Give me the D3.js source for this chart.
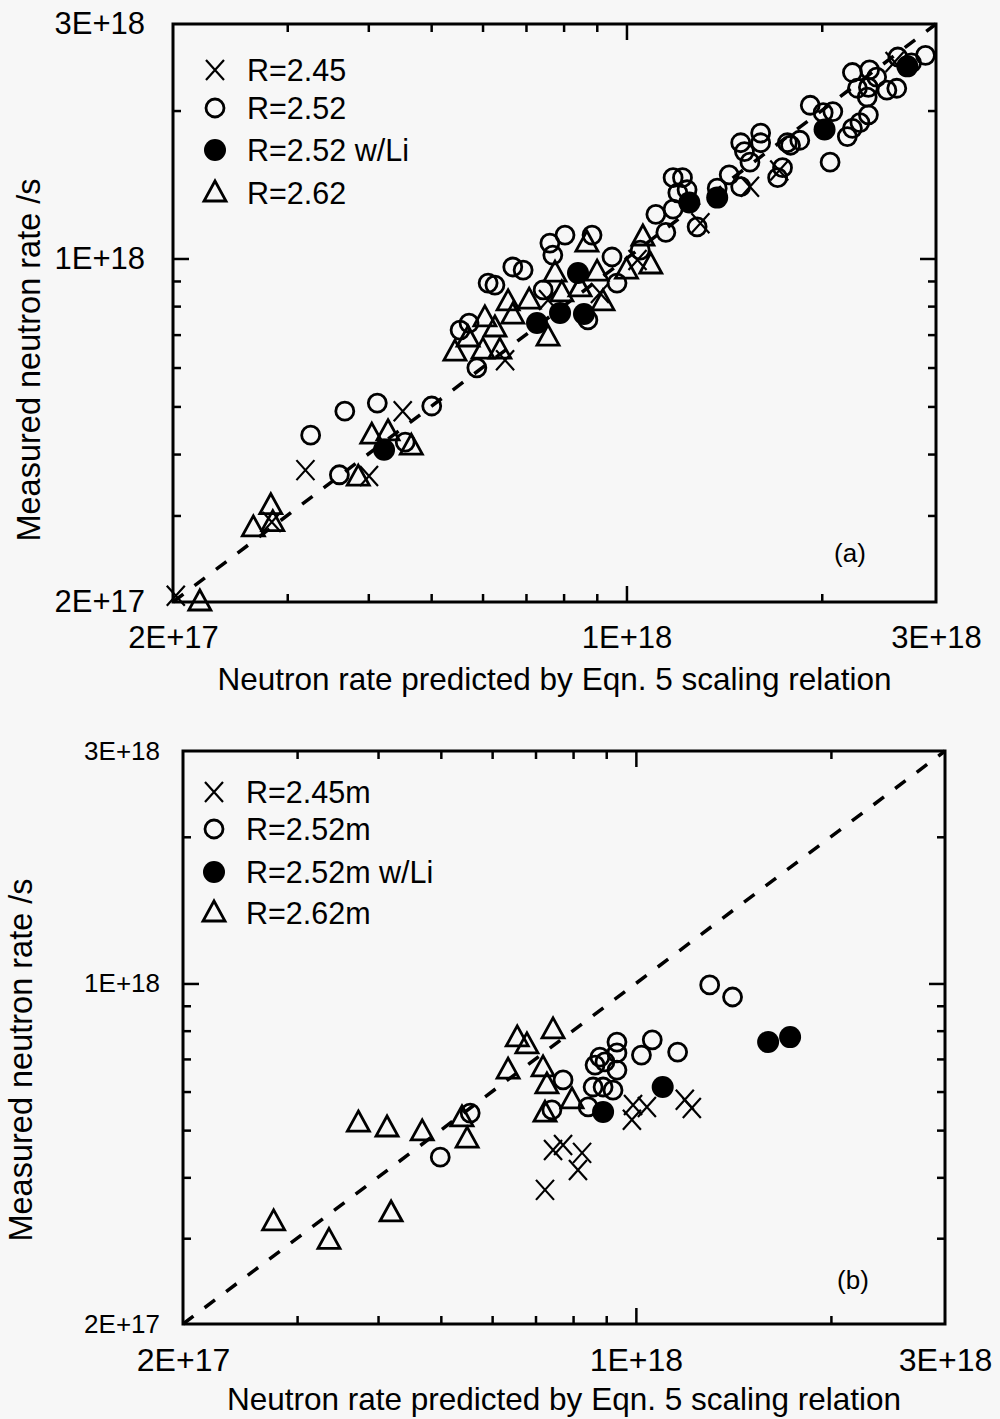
<!DOCTYPE html>
<html>
<head>
<meta charset="utf-8">
<script src="https://cdn.jsdelivr.net/npm/d3@7"></script>
<style>
  body { margin: 0; background: #f7f7f7; }
  text { font-family: "Liberation Sans", Arial, Helvetica, sans-serif; fill: #000; }
</style>
</head>
<body>
<div id="container"></div>
<script>
// panel (a) data: [predicted, measured] neutron rate /s
let crossA = [[2.02e17, 2.06e17], [2.84e17, 2.91e17], [3.20e17, 3.71e17], [4.52e17, 4.89e17], [4.01e17, 3.61e17],
  [6.50e17, 6.21e17], [9.10e17, 8.51e17], [1.04e18, 9.93e17], [1.30e18, 1.18e18], [1.55e18, 1.40e18],
  [1.72e18, 1.51e18], [2.59e18, 2.51e18], [7.57e17, 8.23e17]]
let openA = [[3.26e17, 4.37e17], [3.68e17, 4.89e17], [4.13e17, 5.08e17], [5.01e17, 5.01e17], [3.61e17, 3.63e17],
  [4.56e17, 4.23e17], [5.72e17, 7.39e17], [5.88e17, 5.99e17], [6.12e17, 8.91e17], [6.27e17, 8.83e17],
  [6.68e17, 9.61e17], [6.93e17, 9.47e17], [7.44e17, 8.63e17], [7.62e17, 1.075e18], [8.04e17, 1.116e18],
  [7.70e17, 1.016e18], [8.85e17, 1.116e18], [8.72e17, 7.50e17], [9.50e17, 1.007e18], [9.67e17, 8.91e17],
  [1.05e18, 1.04e18], [1.15e18, 1.13e18], [1.18e18, 1.46e18], [1.22e18, 1.46e18], [1.24e18, 1.38e18],
  [1.18e18, 1.26e18], [1.20e18, 1.36e18], [1.285e18, 1.16e18], [1.38e18, 1.39e18], [1.44e18, 1.48e18],
  [1.50e18, 1.40e18], [1.50e18, 1.72e18], [1.55e18, 1.57e18], [1.61e18, 1.80e18], [1.61e18, 1.72e18],
  [1.71e18, 1.46e18], [1.74e18, 1.53e18], [1.77e18, 1.72e18], [1.85e18, 1.74e18], [1.92e18, 2.05e18],
  [2.01e18, 1.98e18], [2.08e18, 1.99e18], [2.06e18, 1.57e18], [2.19e18, 1.77e18], [2.23e18, 1.84e18],
  [2.29e18, 1.89e18], [2.36e18, 1.96e18], [2.23e18, 2.39e18], [2.37e18, 2.42e18], [2.36e18, 2.23e18],
  [2.27e18, 2.22e18], [2.35e18, 2.13e18], [2.52e18, 2.20e18], [2.61e18, 2.22e18], [2.62e18, 2.57e18],
  [2.75e18, 2.50e18], [2.89e18, 2.59e18], [2.43e18, 2.34e18], [1.79e18, 1.70e18], [5.54e17, 7.15e17],
  [1.11e18, 1.23e18], [1.52e18, 1.65e18]]
let fillA = [[4.23e17, 4.08e17], [7.28e17, 7.39e17], [7.90e17, 7.75e17], [8.42e17, 9.34e17], [8.60e17, 7.71e17],
  [1.25e18, 1.30e18], [1.38e18, 1.33e18], [2.02e18, 1.83e18], [2.71e18, 2.46e18]]
let triA = [[2.20e17, 2.00e17], [2.66e17, 2.83e17], [2.83e17, 3.14e17], [2.85e17, 2.90e17], [3.86e17, 3.59e17],
  [4.05e17, 4.37e17], [4.29e17, 4.44e17], [4.66e17, 4.15e17], [5.44e17, 6.45e17], [5.70e17, 6.89e17],
  [6.01e17, 6.51e17], [6.05e17, 7.57e17], [6.27e17, 7.22e17], [6.38e17, 6.51e17], [6.57e17, 8.16e17],
  [6.68e17, 7.67e17], [7.08e17, 8.23e17], [7.57e17, 6.92e17], [7.76e17, 9.34e17], [7.95e17, 8.51e17],
  [8.69e17, 1.075e18], [9.01e17, 9.38e17], [9.20e17, 8.16e17], [1.00e18, 9.47e17], [1.06e18, 1.106e18],
  [1.09e18, 9.70e17], [8.48e17, 8.71e17]]

// panel (b) data
let crossB = [[9.86e17, 5.25e17], [9.90e17, 5.63e17], [1.04e18, 5.58e17], [1.19e18, 5.77e17], [1.22e18, 5.55e17],
  [7.45e17, 4.55e17], [7.72e17, 4.66e17], [8.26e17, 4.49e17], [8.14e17, 4.14e17], [7.24e17, 3.77e17]]
let openB = [[4.99e17, 4.40e17], [5.55e17, 5.42e17], [7.42e17, 5.50e17], [7.72e17, 6.34e17], [8.44e17, 5.58e17],
  [8.59e17, 6.13e17], [8.90e17, 6.13e17], [9.22e17, 6.04e17], [8.65e17, 6.80e17], [8.96e17, 6.90e17],
  [9.35e17, 6.64e17], [8.80e17, 7.06e17], [9.35e17, 7.58e17], [9.35e17, 7.20e17], [1.02e18, 7.13e17],
  [1.06e18, 7.66e17], [1.16e18, 7.23e17], [1.30e18, 9.93e17], [1.41e18, 9.38e17]]
let fillB = [[8.90e17, 5.45e17], [1.10e18, 6.13e17], [1.60e18, 7.58e17], [1.73e18, 7.76e17]]
let triB = [[2.76e17, 3.24e17], [3.36e17, 2.97e17], [3.73e17, 5.17e17], [4.13e17, 5.05e17], [4.19e17, 3.38e17],
  [4.68e17, 4.96e17], [5.39e17, 5.30e17], [5.49e17, 4.79e17], [6.35e17, 6.64e17], [6.56e17, 7.73e17],
  [6.79e17, 7.48e17], [7.45e17, 8.03e17], [7.19e17, 6.71e17], [7.29e17, 6.19e17], [7.24e17, 5.42e17],
  [7.97e17, 5.77e17]]

let domain = [2e17, 3e18]
let labelTicks = [2e17, 1e18, 3e18]
let majorTicks = [1e18]
let minorTicks = [3e17, 4e17, 5e17, 6e17, 7e17, 8e17, 9e17, 2e18]
let legendA = ['R=2.45', 'R=2.52', 'R=2.52 w/Li', 'R=2.62']
let legendB = ['R=2.45m', 'R=2.52m', 'R=2.52m w/Li', 'R=2.62m']
let xTitle = 'Neutron rate predicted by Eqn. 5 scaling relation',
  yTitle = 'Measured neutron rate /s'

let width = 1000, height = 1419
let svg = d3.select('#container')
  .append('svg')
  .attr('width', width)
  .attr('height', height)

let fmt = v => d3.format('.0e')(v).toUpperCase()

function drawMark(g, kind, x, y) {
  if (kind === 'cross') {
    g.append('path')
      .attr('d', 'M' + (x - 9) + ',' + (y - 10) + 'L' + (x + 9) + ',' + (y + 10) +
        'M' + (x - 9) + ',' + (y + 10) + 'L' + (x + 9) + ',' + (y - 10))
      .attr('stroke', '#000').attr('stroke-width', 2.2).attr('fill', 'none')
  } else if (kind === 'open') {
    g.append('circle').attr('cx', x).attr('cy', y).attr('r', 9)
      .attr('fill', 'none').attr('stroke', '#000').attr('stroke-width', 2.8)
  } else if (kind === 'fill') {
    g.append('circle').attr('cx', x).attr('cy', y).attr('r', 11).attr('fill', '#000')
  } else {
    g.append('path')
      .attr('d', 'M' + x + ',' + (y - 12) + 'L' + (x + 11) + ',' + (y + 8) + 'L' + (x - 11) + ',' + (y + 8) + 'Z')
      .attr('fill', 'none').attr('stroke', '#000').attr('stroke-width', 2.8).attr('stroke-linejoin', 'miter')
  }
}

function panel(p) {
  let xScale = d3.scaleLog().domain(domain).range([p.left, p.right]),
    yScale = d3.scaleLog().domain(domain).range([p.bottom, p.top])
  let g = svg.append('g')

  // dashed y = x line
  g.append('path')
    .attr('d', d3.line().x(d => xScale(d)).y(d => yScale(d))(domain))
    .attr('stroke', '#000').attr('stroke-width', 3.5)
    .attr('stroke-dasharray', '13,14').attr('fill', 'none')

  // inward ticks on all four sides
  let sides = [
    [d3.axisBottom(xScale), 'translate(0,' + p.bottom + ')'],
    [d3.axisTop(xScale), 'translate(0,' + p.top + ')'],
    [d3.axisLeft(yScale), 'translate(' + p.left + ',0)'],
    [d3.axisRight(yScale), 'translate(' + p.right + ',0)']
  ]
  sides.forEach(s => {
    [[minorTicks, 8], [majorTicks, 16]].forEach(t => {
      g.append('g')
        .attr('transform', s[1])
        .call(s[0].tickValues(t[0]).tickSize(-t[1]).tickFormat(''))
        .call(a => a.select('.domain').remove())
        .selectAll('line').attr('stroke-width', 2.5)
    })
  })

  g.append('g')
    .attr('transform', 'translate(0,' + p.bottom + ')')
    .call(d3.axisBottom(xScale).tickValues(labelTicks).tickSize(0).tickPadding(p.xPad).tickFormat(fmt))
    .call(a => a.select('.domain').remove())
    .selectAll('text').attr('font-size', p.xFont).attr('font-family', null)

  g.append('g')
    .attr('transform', 'translate(' + p.left + ',0)')
    .call(d3.axisLeft(yScale).tickValues(labelTicks).tickSize(0).tickPadding(p.yPad).tickFormat(fmt))
    .call(a => a.select('.domain').remove())
    .selectAll('text').attr('font-size', p.yFont).attr('font-family', null)

  // frame
  g.append('rect')
    .attr('x', p.left).attr('y', p.top)
    .attr('width', p.right - p.left).attr('height', p.bottom - p.top)
    .attr('fill', 'none').attr('stroke', '#000').attr('stroke-width', 3)

  p.series.forEach(s => {
    s[1].forEach(d => drawMark(g, s[0], xScale(d[0]), yScale(d[1])))
  })

  // legend
  p.legend.forEach((t, i) => {
    let y = p.legendY[i]
    drawMark(g, p.series[i][0], p.left + p.legendDx, y)
    g.append('text').attr('x', p.left + p.legendDx + 32).attr('y', y).attr('dy', '0.36em')
      .attr('font-size', 30.5).text(t)
  })

  g.append('text').attr('x', p.tagX).attr('y', p.tagY).attr('dy', '0.36em')
    .attr('text-anchor', 'middle').attr('font-size', 26).text(p.tag)

  g.append('text').attr('x', (p.left + p.right) / 2).attr('y', p.xTitleY)
    .attr('text-anchor', 'middle').attr('font-size', 31.5).text(xTitle)

  g.append('text')
    .attr('transform', 'translate(' + p.yTitleX + ',' + p.yTitleY + ') rotate(-90)')
    .attr('text-anchor', 'middle').attr('font-size', 32.5).text(yTitle)
}

panel({
  left: 173, right: 936, top: 24, bottom: 602,
  xFont: 31, yFont: 31, xPad: 24, yPad: 28, legendDx: 42,
  series: [['cross', crossA], ['open', openA], ['fill', fillA], ['tri', triA]],
  legend: legendA, legendY: [70, 108, 150, 193],
  tag: '(a)', tagX: 850, tagY: 553,
  xTitleY: 690, yTitleX: 40, yTitleY: 360
})

panel({
  left: 183, right: 945, top: 751, bottom: 1324,
  xFont: 32, yFont: 26, xPad: 24, yPad: 23, legendDx: 31,
  series: [['cross', crossB], ['open', openB], ['fill', fillB], ['tri', triB]],
  legend: legendB, legendY: [792, 829, 872, 913],
  tag: '(b)', tagX: 853, tagY: 1280,
  xTitleY: 1410, yTitleX: 32, yTitleY: 1060
})
</script>
</body>
</html>
